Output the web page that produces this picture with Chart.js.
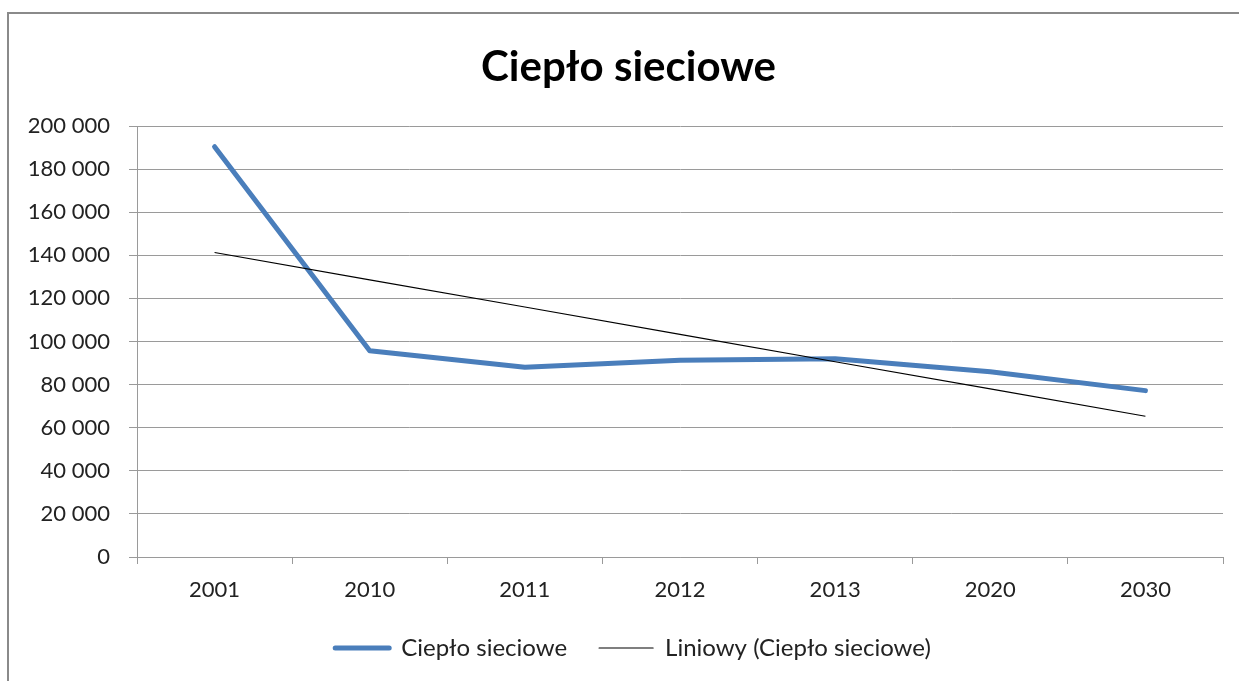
<!DOCTYPE html>
<html>
<head>
<meta charset="utf-8">
<script src="https://cdn.jsdelivr.net/npm/chart.js@4/dist/chart.umd.min.js"></script>
<style>
  html, body { margin: 0; padding: 0; background: #ffffff; }
  #wrap { position: relative; width: 1239px; height: 681px; }
</style>
</head>
<body>
<div id="wrap"><canvas id="c" width="1239" height="681"></canvas></div>
<script>
const chartTitle = 'Ciepło sieciowe';
const categories = ['2001', '2010', '2011', '2012', '2013', '2020', '2030'];
const seriesName = 'Ciepło sieciowe';
const seriesValues = [190400, 95700, 88000, 91300, 92000, 86000, 77200];
const trendName = 'Liniowy (Ciepło sieciowe)';
const trendValues = [141300, 128600, 116000, 103300, 90600, 78000, 65300];
const yMin = 0, yMax = 200000, yStep = 20000;

const FONT = 'Lato, "Open Sans", sans-serif';

const framePlugin = {
  id: 'frame',
  afterLayout(chart) {
    // centre title and legend on the framed area as in the original
    if (chart.titleBlock) { chart.titleBlock.left += 16; }
    if (chart.legend) { chart.legend.left += 25; }
  },
  beforeDraw(chart) {
    const ctx = chart.ctx;
    ctx.save();
    ctx.fillStyle = '#ffffff';
    ctx.fillRect(0, 0, chart.width, chart.height);
    ctx.fillStyle = '#8a8a8a';
    ctx.fillRect(7, 12, 2, chart.height - 12);
    ctx.fillRect(7, 12, chart.width - 7, 2);
    ctx.restore();
  }
};

function fmt(v) {
  return String(v).replace(/\B(?=(\d{3})+(?!\d))/g, ' ');
}

new Chart(document.getElementById('c'), {
  type: 'line',
  data: {
    labels: categories,
    datasets: [
      {
        label: seriesName,
        data: seriesValues,
        borderColor: '#4A7EBB',
        backgroundColor: '#4A7EBB',
        borderWidth: 5,
        pointRadius: 0,
        pointHoverRadius: 0,
        tension: 0,
        borderCapStyle: 'round',
        borderJoinStyle: 'round',
        fill: false,
        order: 2
      },
      {
        label: trendName,
        data: trendValues,
        borderColor: '#000000',
        backgroundColor: '#000000',
        borderWidth: 1.2,
        pointRadius: 0,
        pointHoverRadius: 0,
        tension: 0,
        fill: false,
        order: 1
      }
    ]
  },
  options: {
    responsive: false,
    animation: false,
    events: [],
    layout: { padding: { left: 18, right: 16, top: 13, bottom: 11 } },
    plugins: {
      title: {
        display: true,
        text: chartTitle,
        color: '#000000',
        font: { family: FONT, size: 42, weight: 'bold', lineHeight: 1.2 },
        padding: { top: 28.8, bottom: 33.8 }
      },
      legend: {
        display: true,
        position: 'bottom',
        labels: {
          usePointStyle: true,
          pointStyleWidth: 54,
          padding: 32,
          color: '#222222',
          font: { family: FONT, size: 24 },
          generateLabels: (chart) => chart.data.datasets.map((ds, i) => ({
            text: ds.label,
            fillStyle: ds.borderColor,
            strokeStyle: ds.borderColor,
            lineWidth: ds.borderWidth,
            lineCap: 'round',
            pointStyle: 'line',
            hidden: false,
            datasetIndex: i,
            fontColor: '#222222'
          }))
        }
      },
      tooltip: { enabled: false }
    },
    scales: {
      x: {
        offset: true,
        grid: {
          offset: true,
          drawOnChartArea: false,
          drawTicks: true,
          tickLength: 7,
          color: '#9a9a9a',
          lineWidth: 1
        },
        border: { display: true, color: '#9a9a9a', width: 1 },
        ticks: {
          color: '#222222',
          font: { family: FONT, size: 22 },
          padding: 13,
          maxRotation: 0,
          autoSkip: false
        },
        afterFit(scale) { scale.height = 47; }
      },
      y: {
        min: yMin,
        max: yMax,
        grid: {
          color: '#9a9a9a',
          lineWidth: 1,
          drawTicks: true,
          tickLength: 8
        },
        border: { display: true, color: '#9a9a9a', width: 1 },
        ticks: {
          stepSize: yStep,
          color: '#222222',
          font: { family: FONT, size: 22 },
          padding: 19,
          callback: (v) => fmt(v)
        },
        afterFit(scale) { scale.width = 119; }
      }
    }
  },
  plugins: [framePlugin]
});
</script>
</body>
</html>
